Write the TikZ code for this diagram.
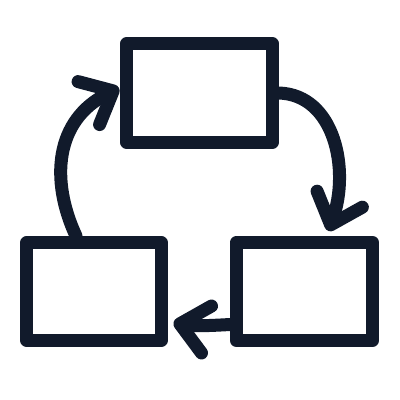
\documentclass[tikz,border=0pt]{standalone}
\usepackage{tikz}
\usetikzlibrary{calc,arrows.meta}
\definecolor{ink}{RGB}{17,26,43}

\begin{document}
\begin{tikzpicture}[x=0.025cm,y=0.025cm,
	box/.style={draw=ink,line width=9.25pt,line join=round,rectangle,inner sep=0pt,minimum height=2.45cm},
	flow/.style={draw=ink,line width=9.25pt,line cap=round,-{Straight Barb[round,length=0.68cm,width=1.2cm]}}]
	\useasboundingbox (0,0) rectangle (400,400);
	\node[box,minimum width=3.65cm] (s1) at (199.5,307) {};
	\node[box,minimum width=3.35cm] (s2) at (94,108.5) {};
	\node[box,minimum width=3.4cm] (s3) at (304.5,108.5) {};
	\draw[flow] (s1.east) .. controls (335,305) and (350,230) .. ($(s3.north)+(24,5)$);
	\draw[flow] ($(s3.west)+(0,-33)$) .. controls (205,74) and (190,74) .. ($(s2.east)+(6,-31)$);
	\draw[flow] ($(s2.north)+(-18,0)$) .. controls (50,220) and (55,280) .. ($(s1.west)+(-1,5)$);
\end{tikzpicture}
\end{document}
